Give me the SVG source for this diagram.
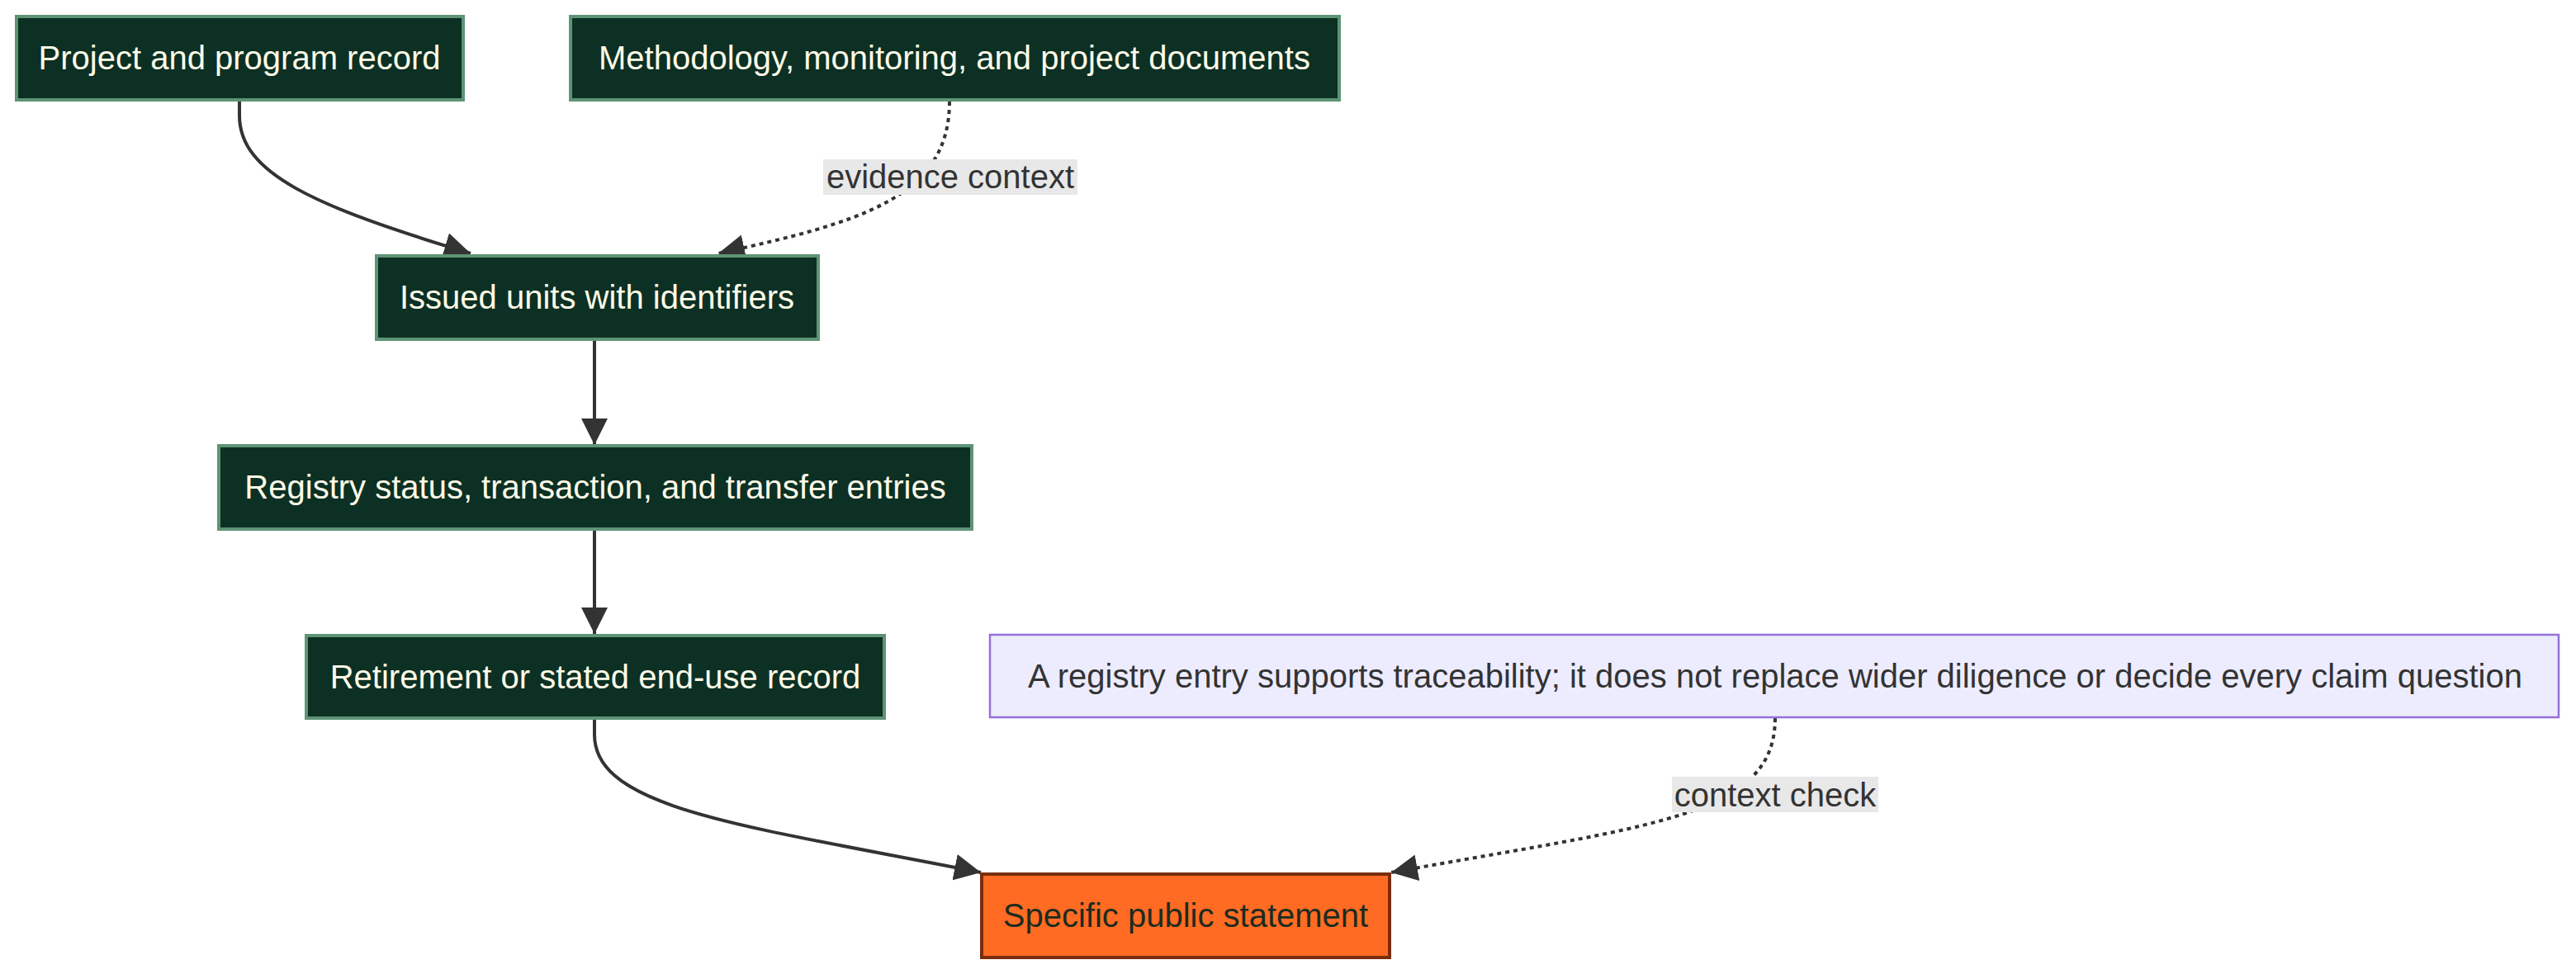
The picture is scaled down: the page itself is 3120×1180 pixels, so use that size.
<svg xmlns="http://www.w3.org/2000/svg" width="3120" height="1180" viewBox="0 0 3120 1180">
<style>
.n rect{fill:#0d3024;stroke:#5e9476;stroke-width:4}
.n text{fill:#fffbe8;font-family:"Liberation Sans",Arial,sans-serif;font-size:40px;text-anchor:middle;dominant-baseline:central}
.e{fill:none;stroke:#333;stroke-width:4}
.d{stroke-dasharray:5 5}
.lb rect{fill:#e8e8e8}
.lb text{fill:#333;font-family:"Liberation Sans",Arial,sans-serif;font-size:40px;text-anchor:middle;dominant-baseline:central}
</style>
<defs><marker id="a" viewBox="0 0 10 10" refX="9" refY="5" markerWidth="8" markerHeight="8" markerUnits="userSpaceOnUse" orient="auto" style="overflow:visible"><path d="M0,0 L10,5 L0,10z" fill="#333" transform="scale(3.2) translate(-7,-5) translate(5,3.5) scale(0.7)"/></marker>
<marker id="m" viewBox="0 0 10 10" refX="10" refY="5" markerWidth="32" markerHeight="32" markerUnits="userSpaceOnUse" orient="auto"><path d="M0,0 L10,5 L0,10z" fill="#333"/></marker></defs>
<rect width="3120" height="1180" fill="#fff"/>
<g id="edges">
<path class="e" d="M290,123 L290,140 C290,210 380,250 570,307" marker-end="url(#m)"/>
<path class="e d" d="M1150,123 C1150,240 1040,270 870,307" marker-end="url(#m)"/>
<path class="e" d="M720,413 L720,539" marker-end="url(#m)"/>
<path class="e" d="M720,641 L720,768" marker-end="url(#m)"/>
<path class="e" d="M720,870 L720,890 C720,980 900,1000 1188,1057" marker-end="url(#m)"/>
<path class="e d" d="M2150,870 C2150,990 2000,1000 1685,1057" marker-end="url(#m)"/>
<g class="lb"><rect x="997" y="193" width="308" height="43"/><text x="1151" y="214">evidence context</text></g>
<g class="lb"><rect x="2025" y="941" width="250" height="43"/><text x="2150" y="963">context check</text></g>
</g>
<g id="n1" class="n"><rect x="20" y="20" width="541" height="101"/><text x="290" y="70">Project and program record</text></g>
<g id="n2" class="n"><rect x="691" y="20" width="931" height="101"/><text x="1156" y="70">Methodology, monitoring, and project documents</text></g>
<g id="n3" class="n"><rect x="456" y="310" width="535" height="101"/><text x="723" y="360">Issued units with identifiers</text></g>
<g id="n4" class="n"><rect x="265" y="540" width="912" height="101"/><text x="721" y="590">Registry status, transaction, and transfer entries</text></g>
<g id="n5" class="n"><rect x="371" y="770" width="700" height="100"/><text x="721" y="820">Retirement or stated end-use record</text></g>
<g id="n6"><rect x="1199" y="769" width="1900" height="100" fill="#ececfe" stroke="#9370db" stroke-width="2.5"/><text x="2150" y="819" fill="#333" font-family="Liberation Sans,Arial,sans-serif" font-size="40" text-anchor="middle" dominant-baseline="central">A registry entry supports traceability; it does not replace wider diligence or decide every claim question</text></g>
<g id="n7"><rect x="1189" y="1059" width="494" height="101" fill="#ff6b22" stroke="#7a2c0e" stroke-width="4"/><text x="1436" y="1109" fill="#1d2b20" font-family="Liberation Sans,Arial,sans-serif" font-size="40" text-anchor="middle" dominant-baseline="central">Specific public statement</text></g>
</svg>
